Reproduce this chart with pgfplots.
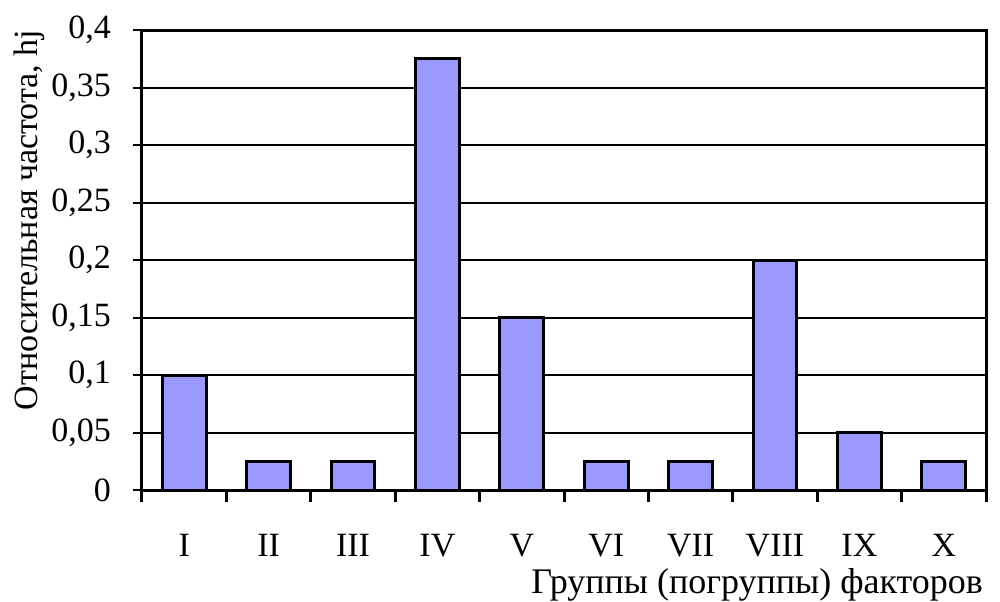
\documentclass[border=0pt]{standalone}
\usepackage{fontspec}
\setmainfont{Liberation Serif}
\usepackage{pgfplots}
\pgfplotsset{compat=1.18}
\definecolor{barc}{HTML}{9999FF}
\begin{document}
\begin{tikzpicture}
\begin{axis}[
  scale only axis, width=422pt, height=230pt,
  xmin=0.5, xmax=10.5, ymin=0, ymax=0.4,
  ytick={0,0.05,0.1,0.15,0.2,0.25,0.3,0.35,0.4},
  xtick={1,2,3,4,5,6,7,8,9,10},
  xticklabels={I,II,III,IV,V,VI,VII,VIII,IX,X},
  minor xtick={0.5,1.5,2.5,3.5,4.5,5.5,6.5,7.5,8.5,9.5,10.5},
  tick pos=left,
  major x tick style={draw=none},
  minor x tick style={line width=1.5pt, black},
  major y tick style={line width=1pt, black},
  tick align=outside,
  major tick length=4.5pt, minor tick length=6pt,
  ymajorgrids, grid style={black, line width=1pt},
  axis line style={line width=1.5pt},
  /pgf/number format/.cd, assume math mode=true, use comma, fixed, precision=2,
  /pgfplots/.cd,
  tick label style={font=\fontsize{17}{20}\selectfont},
  yticklabel style={xshift=-7.5pt},
  xticklabel style={anchor=base, yshift=-28.5pt},
  xlabel={Группы (погруппы) факторов},
  xlabel style={at={(axis description cs:1,0)}, anchor=base east, yshift=-51.5pt, xshift=2pt, font=\fontsize{18}{22}\selectfont},
  ylabel={Относительная частота, hj},
  ylabel style={at={(axis description cs:-0.133,0.587)}, anchor=center, font=\fontsize{17}{20}\selectfont},
]
\addplot[ybar, bar width=0.52, fill=barc, draw=black, line width=1.5pt] coordinates {
  (1,0.1) (2,0.025) (3,0.025) (4,0.375) (5,0.15)
  (6,0.025) (7,0.025) (8,0.2) (9,0.05) (10,0.025)
};
\end{axis}
\pgfresetboundingbox
\path (current axis.south west) ++(-71pt,-55.5pt) rectangle ++(500pt,300.5pt);
\end{tikzpicture}
\end{document}
